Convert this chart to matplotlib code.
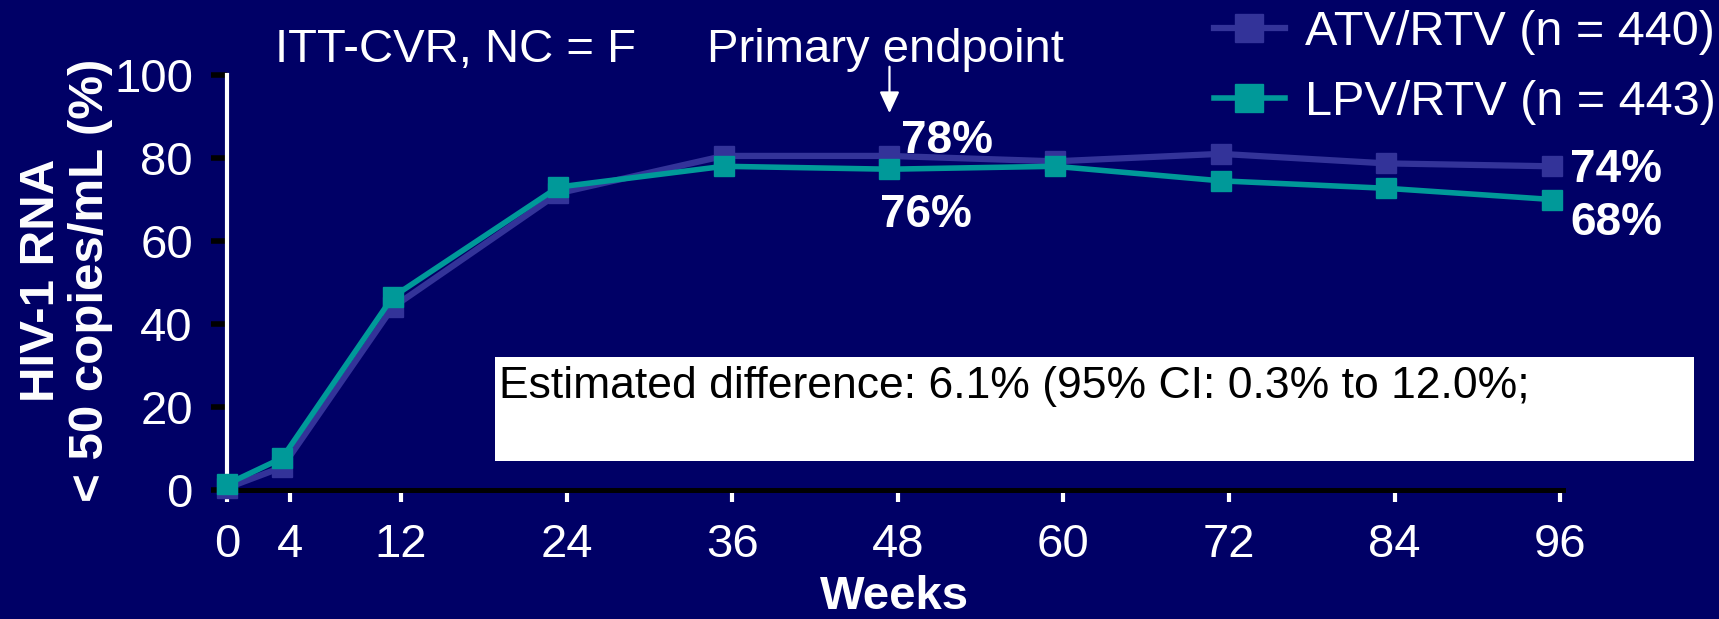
import matplotlib
matplotlib.use('Agg')
import matplotlib.pyplot as plt
from matplotlib.patches import Rectangle

plt.rcParams['font.family'] = ['Liberation Sans', 'DejaVu Sans']

# data
weeks = [0, 4, 12, 24, 36, 48, 60, 72, 84, 96]
atv_rtv = [0.5, 5.5, 44, 71.5, 80.5, 80.5, 79.2, 81, 78.7, 78]
lpv_rtv = [1.4, 7.7, 46.5, 73, 78, 77.3, 78, 74.5, 72.7, 70]
series_labels = ['ATV/RTV (n = 440)', 'LPV/RTV (n = 443)']
x_ticks = [0, 4, 12, 24, 36, 48, 60, 72, 84, 96]
y_ticks = [0, 20, 40, 60, 80, 100]
pct_labels = ['78%', '76%', '74%', '68%']

bg = '#000066'
atv_color = '#333399'
lpv_color = '#009999'
fs = 34

W, H = 1719, 619
fig = plt.figure(figsize=(W / 100, H / 100), dpi=100, facecolor=bg)
ax = fig.add_axes([227 / W, 1 - 490 / H, (1563 - 227) / W, (490 - 75) / H])
ax.set_facecolor(bg)

ax.plot(weeks, atv_rtv, color=atv_color, lw=4.5, marker='s', ms=13.7,
        label=series_labels[0], clip_on=False, zorder=3)
ax.plot(weeks, lpv_rtv, color=lpv_color, lw=4, marker='s', ms=13.7,
        label=series_labels[1], clip_on=False, zorder=4)

ax.set_xlim(0, 96.8)
ax.set_ylim(0, 100)
# in the original slide the tick marks sit a little right of the data points
tick_shift = 0.6
ax.set_xticks([t + tick_shift if t else t for t in x_ticks])
ax.set_xticklabels([str(t) for t in x_ticks])
ax.set_yticks(y_ticks)

for s in ['top', 'right']:
    ax.spines[s].set_visible(False)
ax.spines['left'].set_color('white')
ax.spines['left'].set_linewidth(3)
ax.spines['bottom'].set_color('black')
ax.spines['bottom'].set_linewidth(3.6)

ax.tick_params(axis='y', direction='out', length=11.5, width=4, color='black',
               pad=13, labelsize=fs, labelcolor='white')
ax.tick_params(axis='x', direction='out', length=8.6, width=3, color='white',
               pad=15, labelsize=fs, labelcolor='white')

ax.set_xlabel('Weeks', fontsize=fs, fontweight='bold', color='white')
ax.xaxis.set_label_coords(0.5, -0.205)
ax.set_ylabel('HIV-1 RNA\n< 50 copies/mL (%)', fontsize=35.5,
              fontweight='bold', color='white', va='center', linespacing=1.12)
ax.yaxis.set_label_coords((66 - 227) / (1563 - 227), 0.505)

# percentage callouts
kw = dict(fontsize=33, fontweight='bold', color='white', ha='left',
          va='baseline', clip_on=False)
ax.text(48.8, 81.2, pct_labels[0], **kw)
ax.text(47.3, 63.4, pct_labels[1], **kw)
ax.text(97.3, 74.2, pct_labels[2], **kw)
ax.text(97.3, 61.4, pct_labels[3], **kw)

# primary endpoint arrow
ax.annotate('', xy=(48, 90.8), xytext=(48, 102), annotation_clip=False,
            arrowprops=dict(arrowstyle='-|>,head_length=0.65,head_width=0.3',
                            mutation_scale=20, color='white', lw=1.6,
                            shrinkA=0, shrinkB=0))

fig.text(275 / W, 1 - 62 / H, 'ITT-CVR, NC = F', fontsize=fs, color='white',
         ha='left', va='baseline')
fig.text(707 / W, 1 - 62 / H, 'Primary endpoint', fontsize=fs, color='white',
         ha='left', va='baseline')

# estimated difference box
fig.patches.append(Rectangle((495 / W, 1 - 461 / H), (1694 - 495) / W,
                             (461 - 357) / H, transform=fig.transFigure,
                             facecolor='white', edgecolor='none', zorder=5))
fig.text(499 / W, 1 - 398 / H,
         'Estimated difference: 6.1% (95% CI: 0.3% to 12.0%;',
         fontsize=32, color='black', ha='left', va='baseline', zorder=6)

handles, labels = ax.get_legend_handles_labels()
fig.legend(handles, labels, loc='upper right',
           bbox_to_anchor=(1716 / W, 1 - 10 / H), frameon=False, fontsize=35,
           labelcolor='white', markerscale=1.47, handlelength=1.45,
           handletextpad=0.42, labelspacing=0.52, borderpad=0, borderaxespad=0)

fig.savefig('out.png', dpi=100, facecolor=bg)
